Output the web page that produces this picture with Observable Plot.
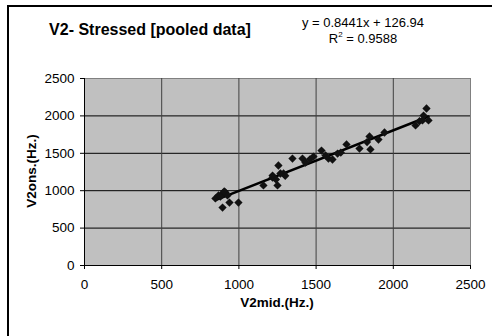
<!DOCTYPE html>
<html>
<head>
<meta charset="utf-8">
<script src="https://cdn.jsdelivr.net/npm/d3@7"></script>
<script src="https://cdn.jsdelivr.net/npm/@observablehq/plot@0.6"></script>
<style>
  html, body { margin: 0; padding: 0; background: #fff; }
  #wrap { position: relative; width: 492px; height: 336px; overflow: hidden; font-family: "Liberation Sans", Arial, sans-serif; }
  #border { position: absolute; left: 7px; top: 5px; width: 600px; height: 400px; border-left: 2px solid #000; border-top: 2px solid #000; }
  .t { position: absolute; white-space: nowrap; color: #000; }
  #title { left: 150px; top: 21px; transform: translateX(-50%); font-weight: bold; font-size: 16px; }
  #eq { left: 363px; top: 15px; transform: translateX(-50%); font-size: 13px; text-align: center; line-height: 16px; }
  #xlabel { left: 277px; top: 295px; transform: translateX(-50%); font-weight: bold; font-size: 13.5px; }
  #ylabel { left: 31px; top: 171px; transform: translate(-50%, -50%) rotate(-90deg); font-weight: bold; font-size: 13.5px; }
  #chart { position: absolute; left: 0; top: 0; }
</style>
</head>
<body>
<div id="wrap">
  <div id="chart"></div>
  <div id="border"></div>
  <div class="t" id="title">V2- Stressed [pooled data]</div>
  <div class="t" id="eq">y = 0.8441x + 126.94<br>R<sup style="font-size:8px;vertical-align:6px;line-height:0">2</sup> = 0.9588</div>
  <div class="t" id="xlabel">V2mid.(Hz.)</div>
  <div class="t" id="ylabel">V2ons.(Hz.)</div>
</div>
<script>
const v2mid = [848, 868, 894, 913, 926, 894, 939, 997, 880, 905,
  1159, 1218, 1250, 1218, 1256, 1269, 1289, 1300, 1240, 1347,
  1412, 1431, 1460, 1483, 1535, 1561, 1580, 1606, 1639, 1660,
  1697, 1781, 1846, 1852, 1904, 1943, 2144, 2170, 2196, 2215,
  2228, 2189, 1830];
const v2ons = [896, 936, 963, 976, 936, 775, 842, 842, 920, 990,
  1070, 1176, 1070, 1203, 1337, 1230, 1230, 1200, 1150, 1430,
  1430, 1377, 1420, 1457, 1537, 1471, 1430, 1417, 1497, 1510,
  1618, 1564, 1725, 1551, 1684, 1778, 1872, 1930, 2005, 2099,
  1939, 1939, 1650];
const xTicks = [0, 500, 1000, 1500, 2000, 2500];
const yTicks = [0, 500, 1000, 1500, 2000, 2500];

const points = v2mid.map((x, i) => ({x, y: v2ons[i]}));

const squareDiamond = {
  draw(context, size) {
    const r = Math.sqrt(size / 2);
    context.moveTo(0, -r);
    context.lineTo(r, 0);
    context.lineTo(0, r);
    context.lineTo(-r, 0);
    context.closePath();
  }
};

const chart = Plot.plot({
  width: 492,
  height: 336,
  marginLeft: 84,
  marginRight: 22,
  marginTop: 78,
  marginBottom: 71,
  style: {fontFamily: "Liberation Sans, Arial, sans-serif", fontSize: "13.5px", color: "#000", background: "transparent"},
  x: {domain: [0, 2500]},
  y: {domain: [0, 2500]},
  marks: [
    Plot.frame({fill: "#c0c0c0", stroke: "#808080"}),
    Plot.ruleY(yTicks.filter(d => d > 0 && d < 2500), {stroke: "#000", strokeWidth: 1}),
    Plot.ruleX(xTicks.filter(d => d > 0 && d < 2500), {stroke: "#404040", strokeWidth: 1}),
    Plot.ruleY([0], {stroke: "#000"}),
    Plot.ruleX([0], {stroke: "#000"}),
    Plot.axisX({ticks: xTicks, tickSize: 4, tickPadding: 10, tickFormat: d => String(d), label: null}),
    Plot.axisY({ticks: yTicks, tickSize: 4, tickPadding: 6, tickFormat: d => String(d), label: null}),
    Plot.linearRegressionY(points, {x: "x", y: "y", stroke: "#000", strokeWidth: 2.5, ci: 0}),
    Plot.dot(points, {x: "x", y: "y", symbol: squareDiamond, r: 3.3, fill: "#111", stroke: "none"})
  ]
});
document.getElementById("chart").appendChild(chart);
</script>
</body>
</html>
